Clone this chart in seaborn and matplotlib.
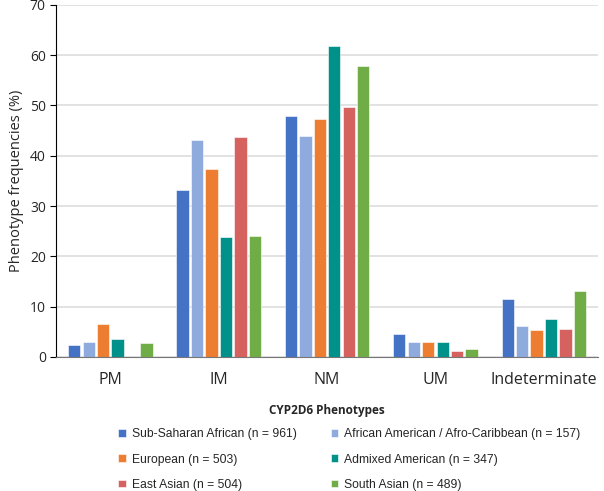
import matplotlib
matplotlib.use("Agg")
import matplotlib.pyplot as plt
import seaborn as sns
import pandas as pd

phenotypes = ["PM", "IM", "NM", "UM", "Indeterminate"]
populations = [
    "Sub-Saharan African (n = 961)",
    "African American / Afro-Caribbean (n = 157)",
    "European (n = 503)",
    "Admixed American (n = 347)",
    "East Asian (n = 504)",
    "South Asian (n = 489)",
]
sub_saharan = [2.3, 33.2, 48.0, 4.5, 11.5]
african_american = [3.0, 43.1, 43.9, 3.0, 6.2]
european = [6.5, 37.4, 47.3, 3.0, 5.3]
admixed_american = [3.5, 23.8, 61.9, 3.0, 7.5]
east_asian = [0.0, 43.7, 49.8, 1.1, 5.5]
south_asian = [2.7, 24.1, 57.9, 1.6, 13.2]
colors = ["#4472C4", "#8FAADC", "#ED7D31", "#00918A", "#D6625F", "#70AD47"]

series = [sub_saharan, african_american, european, admixed_american, east_asian, south_asian]
rows = []
for pop, vals in zip(populations, series):
    for ph, v in zip(phenotypes, vals):
        rows.append({"Phenotype": ph, "Population": pop, "Freq": v})
df = pd.DataFrame(rows)

sns.set_style("white")
plt.rcParams["font.family"] = ["Open Sans", "DejaVu Sans"]

fig = plt.figure(figsize=(6.04, 4.91), dpi=100)
ax = fig.add_axes([0.093, 0.273, 0.897, 0.717])
sns.barplot(data=df, x="Phenotype", y="Freq", hue="Population", palette=colors,
            order=phenotypes, hue_order=populations, width=0.8, gap=0.15,
            saturation=1, edgecolor="white", linewidth=0.4, ax=ax, legend=True)

ax.set_ylim(0, 70)
ax.set_yticks(range(0, 71, 10))
ax.yaxis.grid(True, color="#DDDDDD", linewidth=1.2)
ax.set_axisbelow(True)
ax.set_xlim(-0.5, 4.5)
for s in ["top", "right"]:
    ax.spines[s].set_visible(False)
ax.spines["left"].set_color("black")
ax.spines["bottom"].set_color("#777777")
ax.tick_params(axis="y", left=True, length=4, labelsize=10, color="black")
ax.tick_params(axis="x", bottom=False, labelsize=11.5, pad=7)
ax.set_ylabel("Phenotype frequencies (%)", fontsize=10.5)
ax.set_xlabel("CYP2D6 Phenotypes", fontsize=8.5, fontweight="bold", labelpad=12)

handles, labels = ax.get_legend_handles_labels()
ax.legend_.remove()
order = [0, 2, 4, 1, 3, 5]
fig.legend([handles[i] for i in order], [labels[i] for i in order],
           loc="upper left", bbox_to_anchor=(0.196, 0.128), ncol=2, frameon=False,
           prop={"family": ["Liberation Sans", "DejaVu Sans"], "size": 8.75},
           handlelength=0.6, handleheight=0.6, handletextpad=0.5,
           columnspacing=2.8, labelspacing=1.1, borderaxespad=0, borderpad=0)

fig.savefig("out.png", dpi=100)
